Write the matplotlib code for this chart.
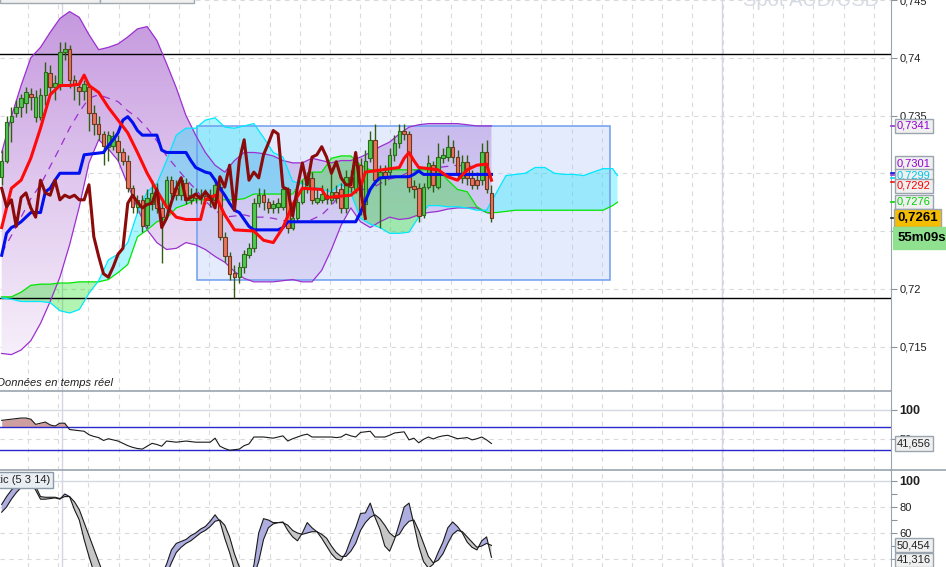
import numpy as np
import matplotlib
matplotlib.use('Agg')
import matplotlib.pyplot as plt
import matplotlib.ticker as ticker
from matplotlib.patches import Rectangle, PathPatch
from matplotlib.lines import Line2D
from matplotlib.colors import LinearSegmentedColormap

plt.rcParams['font.family'] = ['Liberation Sans', 'DejaVu Sans']

# -----------------------------------------------------------
#  Bougies AUD/USD
# -----------------------------------------------------------
opens = [0.7297, 0.7311, 0.7344, 0.7352, 0.7357, 0.7361, 0.7369, 0.7349, 0.7349, 0.7368,
         0.7387, 0.7375, 0.7376, 0.7405, 0.7408, 0.7381, 0.7375, 0.7371, 0.7375, 0.7352,
         0.7343, 0.7334, 0.7323, 0.7324, 0.7328, 0.7318, 0.7311, 0.7287, 0.7271, 0.7277,
         0.7255, 0.7273, 0.7283, 0.7270, 0.7271, 0.7294, 0.7287, 0.7281, 0.7292, 0.7277,
         0.7283, 0.7279, 0.7280, 0.7281, 0.7277, 0.7288, 0.7245, 0.7228, 0.7214, 0.7210,
         0.7219, 0.7229, 0.7235, 0.7274, 0.7281, 0.7275, 0.7270, 0.7271, 0.7271, 0.7286,
         0.7253, 0.7261, 0.7275, 0.7286, 0.7296, 0.7275, 0.7277, 0.7281, 0.7277, 0.7284,
         0.7286, 0.7270, 0.7297, 0.7286, 0.7307, 0.7273, 0.7313, 0.7329, 0.7296, 0.7301,
         0.7301, 0.7316, 0.7326, 0.7337, 0.7334, 0.7289, 0.7287, 0.7264, 0.7288, 0.7307,
         0.7288, 0.7313, 0.7314, 0.7323, 0.7314, 0.7296, 0.7310, 0.7296, 0.7294, 0.7294,
         0.7318, 0.7283]
closes = [0.7311, 0.7344, 0.7350, 0.7357, 0.7365, 0.7370, 0.7366, 0.7366, 0.7368, 0.7388,
          0.7375, 0.7378, 0.7405, 0.7408, 0.7381, 0.7377, 0.7371, 0.7377, 0.7352, 0.7343,
          0.7334, 0.7324, 0.7333, 0.7332, 0.7318, 0.7311, 0.7287, 0.7271, 0.7277, 0.7254,
          0.7279, 0.7283, 0.7270, 0.7262, 0.7294, 0.7283, 0.7281, 0.7294, 0.7277, 0.7281,
          0.7279, 0.7281, 0.7277, 0.7277, 0.7290, 0.7245, 0.7228, 0.7213, 0.7210, 0.7219,
          0.7230, 0.7235, 0.7274, 0.7281, 0.7275, 0.7270, 0.7273, 0.7274, 0.7286, 0.7253,
          0.7261, 0.7275, 0.7287, 0.7296, 0.7277, 0.7279, 0.7282, 0.7278, 0.7284, 0.7279,
          0.7270, 0.7297, 0.7288, 0.7307, 0.7268, 0.7311, 0.7329, 0.7294, 0.7301, 0.7296,
          0.7316, 0.7326, 0.7337, 0.7334, 0.7288, 0.7286, 0.7263, 0.7288, 0.7309, 0.7290,
          0.7314, 0.7316, 0.7323, 0.7314, 0.7300, 0.7310, 0.7296, 0.7290, 0.7290, 0.7318,
          0.7286, 0.7261]
highs = [0.7320, 0.7350, 0.7357, 0.7363, 0.7369, 0.7375, 0.7374, 0.7372, 0.7374, 0.7396,
         0.7394, 0.7385, 0.7414, 0.7414, 0.7411, 0.7385, 0.7381, 0.7381, 0.7378, 0.7359,
         0.7350, 0.7337, 0.7337, 0.7337, 0.7333, 0.7322, 0.7316, 0.7290, 0.7281, 0.7281,
         0.7286, 0.7294, 0.7292, 0.7277, 0.7298, 0.7298, 0.7294, 0.7298, 0.7296, 0.7287,
         0.7287, 0.7286, 0.7286, 0.7286, 0.7296, 0.7292, 0.7249, 0.7232, 0.7221, 0.7223,
         0.7234, 0.7240, 0.7279, 0.7287, 0.7286, 0.7279, 0.7277, 0.7279, 0.7292, 0.7288,
         0.7266, 0.7279, 0.7294, 0.7301, 0.7301, 0.7286, 0.7290, 0.7287, 0.7301, 0.7290,
         0.7292, 0.7303, 0.7303, 0.7316, 0.7313, 0.7320, 0.7337, 0.7343, 0.7307, 0.7307,
         0.7322, 0.7333, 0.7343, 0.7343, 0.7337, 0.7294, 0.7292, 0.7292, 0.7316, 0.7311,
         0.7326, 0.7322, 0.7333, 0.7329, 0.7320, 0.7316, 0.7316, 0.7303, 0.7301, 0.7326,
         0.7329, 0.7290]
lows = [0.7290, 0.7309, 0.7327, 0.7349, 0.7349, 0.7352, 0.7355, 0.7344, 0.7346, 0.7359,
        0.7368, 0.7363, 0.7372, 0.7398, 0.7374, 0.7363, 0.7359, 0.7363, 0.7337, 0.7333,
        0.7329, 0.7307, 0.7311, 0.7320, 0.7311, 0.7307, 0.7284, 0.7266, 0.7266, 0.7249,
        0.7253, 0.7268, 0.7266, 0.7222, 0.7266, 0.7279, 0.7277, 0.7277, 0.7273, 0.7273,
        0.7274, 0.7273, 0.7273, 0.7271, 0.7274, 0.7242, 0.7223, 0.7208, 0.7192, 0.7205,
        0.7214, 0.7227, 0.7232, 0.7271, 0.7268, 0.7266, 0.7266, 0.7266, 0.7268, 0.7248,
        0.7251, 0.7258, 0.7273, 0.7283, 0.7273, 0.7273, 0.7274, 0.7273, 0.7273, 0.7274,
        0.7266, 0.7266, 0.7284, 0.7283, 0.7264, 0.7266, 0.7310, 0.7290, 0.7253, 0.7290,
        0.7296, 0.7311, 0.7322, 0.7329, 0.7284, 0.7279, 0.7258, 0.7261, 0.7286, 0.7284,
        0.7286, 0.7309, 0.7311, 0.7309, 0.7296, 0.7292, 0.7290, 0.7286, 0.7286, 0.7290,
        0.7283, 0.7258]

# Bandes de Bollinger (une valeur toutes les 2 bougies, + la derniere)
bb_x = list(range(0, 101, 2)) + [101]
bb_upper = [0.7318, 0.7349, 0.7376, 0.7400, 0.7409, 0.7422, 0.7434, 0.7440, 0.7435, 0.7420,
            0.7407, 0.7409, 0.7412, 0.7418, 0.7425, 0.7427, 0.7415, 0.7395, 0.7374, 0.7350,
            0.7333, 0.7318, 0.7307, 0.7301, 0.7311, 0.7318, 0.7318, 0.7317, 0.7315, 0.7311,
            0.7309, 0.7309, 0.7313, 0.7311, 0.7309, 0.7311, 0.7311, 0.7314, 0.7318, 0.7323,
            0.7327, 0.7334, 0.7340, 0.7342, 0.7343, 0.7343, 0.7343, 0.7343, 0.7342, 0.7341,
            0.7341, 0.7341]
bb_lower = [0.7144, 0.7143, 0.7147, 0.7155, 0.7170, 0.7189, 0.7210, 0.7238, 0.7271, 0.7309,
            0.7329, 0.7321, 0.7311, 0.7290, 0.7270, 0.7251, 0.7240, 0.7234, 0.7235, 0.7240,
            0.7238, 0.7234, 0.7228, 0.7223, 0.7215, 0.7209, 0.7206, 0.7206, 0.7206, 0.7207,
            0.7208, 0.7206, 0.7206, 0.7216, 0.7234, 0.7255, 0.7270, 0.7258, 0.7253, 0.7258,
            0.7262, 0.7260, 0.7261, 0.7264, 0.7266, 0.7267, 0.7269, 0.7270, 0.7270, 0.7270,
            0.7266, 0.7265]
bb_mid = [0.7231, 0.7246, 0.7262, 0.7278, 0.7290, 0.7306, 0.7322, 0.7339, 0.7353, 0.7365,
          0.7368, 0.7365, 0.7362, 0.7354, 0.7348, 0.7339, 0.7328, 0.7315, 0.7305, 0.7295,
          0.7286, 0.7276, 0.7268, 0.7262, 0.7263, 0.7264, 0.7262, 0.7262, 0.7261, 0.7259,
          0.7259, 0.7258, 0.7260, 0.7264, 0.7272, 0.7283, 0.7291, 0.7286, 0.7286, 0.7291,
          0.7295, 0.7297, 0.7301, 0.7303, 0.7305, 0.7305, 0.7306, 0.7307, 0.7306, 0.7306,
          0.7304, 0.7303]

# Ichimoku
tk_x = [0, 2, 4, 6, 8, 10, 12, 14, 16, 17, 18, 20, 22, 24, 26, 28, 30, 32, 34, 36, 38, 41, 42, 44, 46,
        48, 52, 54, 56, 58, 60, 62, 66, 67, 72, 74, 75, 82, 83, 84, 85, 86, 90, 92, 94, 96, 98, 100, 101]
tenkan = [0.7253, 0.7287, 0.7294, 0.7313, 0.7339, 0.7368, 0.7376, 0.7376, 0.7377, 0.7385,
          0.7376, 0.7370, 0.7357, 0.7346, 0.7335, 0.7318, 0.7300, 0.7285, 0.7271, 0.7262,
          0.7260, 0.7260, 0.7277, 0.7281, 0.7264, 0.7251, 0.7250, 0.7242, 0.7240, 0.7253,
          0.7273, 0.7287, 0.7286, 0.7279, 0.7281, 0.7288, 0.7301, 0.7305, 0.7313, 0.7318,
          0.7311, 0.7305, 0.7303, 0.7297, 0.7294, 0.7303, 0.7307, 0.7308, 0.7294]
kj_x = [0, 1, 2, 3, 4, 5, 6, 8, 9, 10, 11, 12, 16, 17, 21, 22, 23, 24, 25, 26, 27, 28, 29, 32, 33,
        34, 38, 39, 40, 41, 42, 43, 44, 45, 46, 47, 48, 49, 50, 51, 52, 57, 58, 59, 73, 74, 75, 76,
        77, 78, 81, 84, 85, 86, 87, 101]
kijun = [0.7229, 0.7248, 0.7253, 0.7255, 0.7258, 0.7262, 0.7266, 0.7266, 0.7284, 0.7287,
         0.7294, 0.7300, 0.7300, 0.7316, 0.7318, 0.7324, 0.7329, 0.7335, 0.7346, 0.7349,
         0.7344, 0.7337, 0.7333, 0.7333, 0.7320, 0.7318, 0.7318, 0.7311, 0.7305, 0.7303,
         0.7301, 0.7300, 0.7294, 0.7287, 0.7281, 0.7274, 0.7268, 0.7266, 0.7260, 0.7254,
         0.7251, 0.7251, 0.7253, 0.7258, 0.7258, 0.7266, 0.7276, 0.7286, 0.7292, 0.7296,
         0.7297, 0.7297, 0.7299, 0.7302, 0.7299, 0.7299]
cloud_x = list(range(0, 127, 2)) + [127]
span_a = [0.7193, 0.7193, 0.7197, 0.7203, 0.7204, 0.7204, 0.7205, 0.7205, 0.7206, 0.7206,
          0.7206, 0.7208, 0.7214, 0.7221, 0.7245, 0.7251, 0.7258, 0.7261, 0.7270, 0.7273,
          0.7277, 0.7277, 0.7277, 0.7277, 0.7277, 0.7278, 0.7282, 0.7282, 0.7282, 0.7282,
          0.7282, 0.7294, 0.7301, 0.7301, 0.7313, 0.7315, 0.7315, 0.7307, 0.7303, 0.7303,
          0.7303, 0.7303, 0.7303, 0.7303, 0.7303, 0.7303, 0.7294, 0.7286, 0.7284, 0.7271,
          0.7266, 0.7266, 0.7267, 0.7268, 0.7268, 0.7268, 0.7268, 0.7268, 0.7268, 0.7268,
          0.7268, 0.7268, 0.7268, 0.7272, 0.7275]
span_b = [0.7192, 0.7191, 0.7189, 0.7189, 0.7189, 0.7188, 0.7181, 0.7179, 0.7182, 0.7196,
          0.7207, 0.7225, 0.7230, 0.7240, 0.7266, 0.7284, 0.7291, 0.7311, 0.7333, 0.7339,
          0.7339, 0.7346, 0.7348, 0.7340, 0.7339, 0.7341, 0.7343, 0.7331, 0.7318, 0.7314,
          0.7293, 0.7291, 0.7289, 0.7286, 0.7284, 0.7291, 0.7283, 0.7261, 0.7256, 0.7253,
          0.7248, 0.7248, 0.7249, 0.7262, 0.7272, 0.7272, 0.7271, 0.7271, 0.7270, 0.7268,
          0.7268, 0.7283, 0.7298, 0.7299, 0.7300, 0.7305, 0.7305, 0.7300, 0.7299, 0.7299,
          0.7298, 0.7301, 0.7304, 0.7304, 0.7298]
chikou_shift = 26

# rectangle trace par l'utilisateur
box_x0, box_x1 = 40.3, 125.4
box_lo, box_hi = 0.72075, 0.7341
hlines_price = [0.7403, 0.7192]

# RSI
rsi = [82, 83, 84, 85, 86, 86, 84, 75, 77, 79, 74, 72, 77, 77, 66, 65, 64, 63, 57, 54,
       52, 47, 50, 48, 46, 42, 38, 35, 33, 32, 37, 42, 40, 37, 46, 45, 44, 45, 46, 45,
       44, 44, 44, 44, 51, 37, 33, 30, 31, 32, 38, 41, 53, 53, 53, 52, 51, 53, 55, 46,
       50, 53, 56, 58, 53, 53, 53, 53, 53, 52, 53, 58, 55, 53, 61, 62, 63, 53, 53, 53,
       56, 60, 61, 62, 48, 51, 43, 49, 53, 49.6, 53, 55, 56, 53, 50, 51, 52, 48, 50, 53,
       48, 41.7]

# Stochastique (5 3 14)
stoch_k = [82, 88, 93, 97, 99, 99, 99, 93, 86, 86, 86.5, 87, 86, 90, 88, 78, 70, 55, 42, 30,
           22, 16, 12, 10, 9, 10, 12, 14, 15, 14, 13, 15, 20, 28, 36, 47, 52, 53.5, 55, 58,
           60, 63, 65, 69, 74, 69, 56, 45, 32, 25, 22, 25, 35, 60, 71, 70, 68, 68, 68.5, 62,
           57, 54, 60, 68, 64, 61, 56, 50, 44, 40, 39, 45, 55, 64, 75, 75.5, 83, 72, 63, 50,
           46, 55, 67, 80, 83, 67, 50, 38, 33, 36, 45, 53, 64, 68.5, 65, 60, 53, 49, 47, 54,
           57, 41.3]
stoch_d = [76, 80, 86, 91, 95, 97, 98, 96, 88, 87.5, 87.5, 87.5, 86.5, 88, 88, 84, 78, 68, 58, 48,
           38, 28, 20, 15, 12, 10, 10, 12, 13, 14, 14, 14, 16, 21, 28, 37, 45, 49, 52, 54,
           57, 60, 62, 65, 69, 70, 66, 57, 44, 34, 26, 24, 27, 38, 55, 64, 67, 68, 68, 66,
           62, 60, 59, 60, 61, 61, 59, 56, 50, 45, 42, 42, 46, 52, 62, 68, 72, 74, 71, 66,
           60, 57, 59, 65, 69, 70, 62, 52, 42, 37, 39, 44, 52, 59, 62, 61, 57, 53, 49, 50,
           52, 50.5]

# -----------------------------------------------------------
#  Mise en page
# -----------------------------------------------------------
W, H = 946, 567
fig = plt.figure(figsize=(W / 100, H / 100), dpi=100)
fig.patch.set_facecolor('white')


def fx(px):
    return px / W


def fy(py):
    return 1 - py / H


ax = fig.add_axes([0, fy(391), fx(891), 391 / H])
ax_rsi = fig.add_axes([0, fy(470), fx(891), 79 / H])
ax_st = fig.add_axes([0, 0, fx(891), 97 / H])

XMIN, XMAX = -0.35, 183.4
grid_x = 5.4 + 6.23 * np.arange(30)
day_x = [12.4, 148.5]
DASH = (0, (4, 4))

for a in (ax, ax_rsi, ax_st):
    a.set_facecolor('white')
    for s in ('left', 'bottom', 'top'):
        a.spines[s].set_visible(False)
    a.spines['right'].set_color('#9aa4ae')
    a.xaxis.set_visible(False)
    a.yaxis.tick_right()
    a.tick_params(axis='y', which='both', direction='out', length=4, width=0.8,
                  color='#8a949e', labelsize=8, pad=2, labelcolor='#202020')
    for gx in grid_x:
        a.axvline(gx, color='#dadada', lw=0.8, ls=DASH, zorder=0.5)
    for dx in day_x:
        a.axvline(dx, color='#d6d6e4', lw=1.0, zorder=0.5)
for a in (ax_rsi, ax_st):
    a.spines['top'].set_visible(True)
    a.spines['top'].set_color('#9aa4ae')
    a.spines['top'].set_linewidth(1.2)

# ---------------- panneau prix ----------------
price_ticks = [0.715, 0.72, 0.725, 0.73, 0.735, 0.74, 0.745]
for t in price_ticks:
    ax.axhline(t, color='#dadada', lw=0.8, ls=DASH, zorder=0.5)

# remplissage Bollinger en degrade
band = ax.fill_between(bb_x, bb_lower, bb_upper, facecolor='none', edgecolor='none')
clip = PathPatch(band.get_paths()[0], transform=ax.transData, facecolor='none', edgecolor='none')
ax.add_patch(clip)
bb_cmap = LinearSegmentedColormap.from_list('bb', ['#f7f0fa', '#e0c8ee', '#c598de'])
im = ax.imshow(np.linspace(0, 1, 256).reshape(-1, 1), extent=[XMIN, 102, 0.7140, 0.7442],
               origin='lower', aspect='auto', cmap=bb_cmap, zorder=1, interpolation='bilinear')
im.set_clip_path(clip)

# rectangle (sous le nuage)
ax.add_patch(Rectangle((box_x0, box_lo), box_x1 - box_x0, box_hi - box_lo,
                       facecolor='#aec2f8', alpha=0.32, edgecolor='none', zorder=2))

# nuage
sa = np.array(span_a)
sb = np.array(span_b)
cx = np.array(cloud_x)
ax.fill_between(cx, sa, sb, where=sa >= sb, interpolate=True, color='#00dd00', alpha=0.30, lw=0, zorder=2.3)
ax.fill_between(cx, sa, sb, where=sa <= sb, interpolate=True, color='#00e4ff', alpha=0.32, lw=0, zorder=2.3)

ax.add_patch(Rectangle((box_x0, box_lo), box_x1 - box_x0, box_hi - box_lo,
                       fill=False, edgecolor='#6d9df0', lw=1.1, zorder=2.6))

for hp in hlines_price:
    ax.axhline(hp, color='black', lw=1.0, zorder=3)

ax.plot(bb_x, bb_upper, color='#9b30d0', lw=0.9, zorder=3)
ax.plot(bb_x, bb_lower, color='#9b30d0', lw=0.9, zorder=3)
ax.plot(bb_x, bb_mid, color='#9b30d0', lw=0.9, ls=(0, (6, 5)), zorder=3)
ax.plot(cx, sa, color='#00e600', lw=0.9, zorder=3)
ax.plot(cx, sb, color='#00e8ff', lw=0.9, zorder=3)

# bougies
o = np.array(opens)
c = np.array(closes)
h = np.array(highs)
l = np.array(lows)
bars = np.arange(len(c))
up = c >= o
ax.vlines(bars, l, h, color='#2e5e10', lw=1.0, zorder=4)
ax.bar(bars[up], (c - o)[up], bottom=o[up], width=0.74, color='#4fc84f',
       edgecolor='#2d6a1a', lw=0.8, zorder=4.1)
ax.bar(bars[~up], (o - c)[~up], bottom=c[~up], width=0.74, color='#e8735e',
       edgecolor='#6b3a1c', lw=0.8, zorder=4.1)

# lignes Ichimoku
ax.plot(kj_x, kijun, color='#0010ee', lw=2.2, zorder=5, solid_joinstyle='round')
ax.plot(tk_x, tenkan, color='#ff0a0a', lw=2.2, zorder=5.1, solid_joinstyle='round')
ax.plot(bars[chikou_shift:] - chikou_shift, c[chikou_shift:], color='#8b0a0a', lw=2.2,
        zorder=5.2, solid_joinstyle='round')

ax.set_xlim(XMIN, XMAX)
ax.set_ylim(0.71115, 0.745)
ax.set_yticks(price_ticks)
ax.yaxis.set_major_formatter(ticker.FuncFormatter(
    lambda v, p: f'{v:.3f}'.rstrip('0').replace('.', ',')))

# ---------------- panneau RSI ----------------
r = np.array(rsi)
ax_rsi.axhline(100, color='#d4d8e0', lw=1.0, zorder=0.5)
ax_rsi.axhline(50, color='#dadada', lw=0.8, ls=DASH, zorder=0.5)
ax_rsi.fill_between(bars, 70, r, where=r >= 70, interpolate=True, color='#cf9f9f', lw=0, zorder=2)
ax_rsi.axhline(70, color='#2828cc', lw=1.0, zorder=2.5)
ax_rsi.axhline(30, color='#2828cc', lw=1.0, zorder=2.5)
ax_rsi.plot(bars, r, color='#1a1a1a', lw=0.8, zorder=3)
ax_rsi.set_xlim(XMIN, XMAX)
ax_rsi.set_ylim(-4.35, 133)
ax_rsi.set_yticks([100, 50])
ax_rsi.set_yticklabels(['100', '50'])
ax_rsi.get_yticklabels()[0].set_fontweight('bold')
ax_rsi.get_yticklabels()[0].set_fontsize(9)

# ---------------- panneau stochastique ----------------
k = np.array(stoch_k)
d = np.array(stoch_d)
ax_st.axhline(100, color='#d4d8e0', lw=1.0, zorder=0.5)
for lv in (80, 60, 40):
    ax_st.axhline(lv, color='#dadada', lw=0.8, ls=DASH, zorder=0.5)
ax_st.fill_between(bars, k, d, where=k >= d, interpolate=True, color='#adaddf', lw=0, zorder=2)
ax_st.fill_between(bars, k, d, where=k <= d, interpolate=True, color='#c6c6c6', lw=0, zorder=2)
ax_st.plot(bars, k, color='#1a1a1a', lw=0.8, zorder=3)
ax_st.plot(bars, d, color='#1a1a1a', lw=0.8, zorder=3)
ax_st.set_xlim(XMIN, XMAX)
ax_st.set_ylim(33.85, 108.46)
ax_st.set_yticks([100, 80, 60, 40])
ax_st.set_yticklabels(['100', '80', '60', '40'])
ax_st.yaxis.set_minor_locator(ticker.FixedLocator([90, 70, 50]))
ax_st.get_yticklabels()[0].set_fontweight('bold')
ax_st.get_yticklabels()[0].set_fontsize(9)

# separateur pleine largeur
fig.add_artist(Line2D([fx(891), 1], [fy(470), fy(470)], color='#9aa4ae', lw=1.2))

# -----------------------------------------------------------
#  Etiquettes de l'axe de droite
# -----------------------------------------------------------
def tag(py, s, color, face='#f0f0f0', edge='#9aa4ae', bold=False, size=8, px=897, pad=0.2):
    fig.text(fx(px), fy(py), s, color=color, fontsize=size,
             fontweight='bold' if bold else 'normal', ha='left', va='center',
             bbox=dict(boxstyle=f'square,pad={pad}', facecolor=face, edgecolor=edge, lw=1))


marks = [(126, '#9b30d0'), (173, '#0010ee'), (175, '#9b30d0'), (178, '#00d8f0'),
         (182, '#ff0a0a'), (202, '#00dd00'), (218, '#202020')]
for my, mc in marks:
    fig.add_artist(Line2D([fx(891), fx(896)], [fy(my), fy(my)], color=mc, lw=1.2))

tag(126, '0,7341', '#9400d3')
tag(163, '0,7301', '#9400d3')
tag(176, '0,7299', '#00c8e8')
tag(186, '0,7292', '#ff0000')
tag(202, '0,7276', '#00d000')
tag(218, '0,7261', '#000000', face='#f5bd00', bold=True, size=9.5, pad=0.25)
tag(238, '55m09s', '#000000', face='#8fe08f', edge='#8fe08f', bold=True, size=9.5, px=898, pad=0.35)

tag(443.5, '41,656', '#202020')
tag(545, '50,454', '#202020')
tag(560, '41,316', '#202020')

# textes divers
fig.text(fx(-3), fy(383), 'Données en temps réel', fontsize=8, style='italic',
         color='#202020', ha='left', va='center')
fig.text(fx(50), fy(480), 'Stochastic (5 3 14)', fontsize=8, color='#202020',
         ha='right', va='center',
         bbox=dict(boxstyle='square,pad=0.25', facecolor='#e9eef3', edgecolor='#8c99a6', lw=1))
fig.text(fx(879), fy(6), 'Spot AUD/USD', fontsize=14.5, color='#d6dae2',
         ha='right', va='baseline')
fig.add_artist(Rectangle((0, fy(2.5)), fx(100), 10 / H, transform=fig.transFigure,
                         facecolor='#f0f0f0', edgecolor='#a0a8b0', lw=1))
fig.add_artist(Rectangle((fx(100), fy(2.5)), fx(94), 10 / H, transform=fig.transFigure,
                         facecolor='#f0f0f0', edgecolor='#a0a8b0', lw=1))

fig.savefig('out.png', dpi=100)
